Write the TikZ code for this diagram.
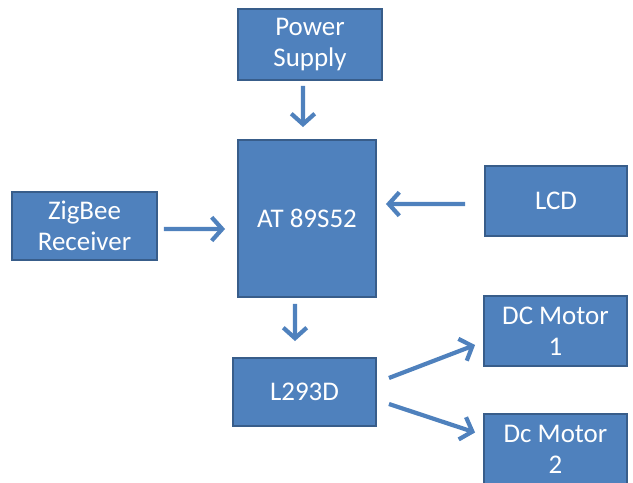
\documentclass[tikz,border=0pt]{standalone}
\usepackage{fontspec}
\setmainfont{Carlito}
\usetikzlibrary{arrows.meta}

\definecolor{boxfill}{HTML}{4F81BD}
\definecolor{boxline}{HTML}{385D8A}

\tikzset{
  block/.style={draw=boxline, line width=1.6pt, fill=boxfill, text=white,
    align=center, inner sep=0pt, minimum width=#1,
    font=\fontsize{23}{26.5}\selectfont},
  link/.style={draw=boxfill, line width=3.6pt,
    -{Straight Barb[length=9pt,width=20pt]}}
}

\begin{document}
\begin{tikzpicture}
  \useasboundingbox (0,0) rectangle (18.99,14.49);

  \node[block=4.32cm, minimum height=2.13cm] (pwr) at (9.30,13.155) {Power\\Supply};
  \node[block=4.14cm, minimum height=4.71cm] (mcu) at (9.21,7.935) {AT 89S52};
  \node[block=4.35cm, minimum height=2.04cm] (zig) at (2.535,7.71) {ZigBee\\Receiver};
  \node[block=4.26cm, minimum height=2.10cm] (lcd) at (16.68,8.46) {LCD};
  \node[block=4.29cm, minimum height=2.04cm] (drv) at (9.135,2.73) {L293D};
  \node[block=4.29cm, minimum height=2.10cm] (mta) at (16.665,4.56) {DC Motor\\1};
  \node[block=4.29cm, minimum height=2.10cm] (mtb) at (16.665,1.02) {Dc Motor\\2};

  % arrows into the controller
  \draw[link, shorten <=0.15cm, shorten >=0.36cm]
    ([xshift=-0.21cm]pwr.south) -- ([xshift=-0.12cm]mcu.north);
  \draw[link, shorten <=0.18cm, shorten >=0.36cm]
    ([yshift=-0.09cm]zig.east) -- ([yshift=-0.315cm]mcu.west);
  \draw[link, shorten <=0.57cm, shorten >=0.27cm]
    ([yshift=-0.09cm]lcd.west) -- ([yshift=0.435cm]mcu.east);

  % controller to driver to motors
  \draw[link, shorten <=0.18cm, shorten >=0.48cm]
    ([xshift=-0.36cm]mcu.south) -- ([xshift=-0.285cm]drv.north);
  \draw[link] ([shift={(0.36,0.42)}]drv.east) -- ([shift={(-0.24,-0.42)}]mta.west);
  \draw[link] ([shift={(0.36,-0.36)}]drv.east) -- ([shift={(-0.24,0.495)}]mtb.west);
\end{tikzpicture}
\end{document}
